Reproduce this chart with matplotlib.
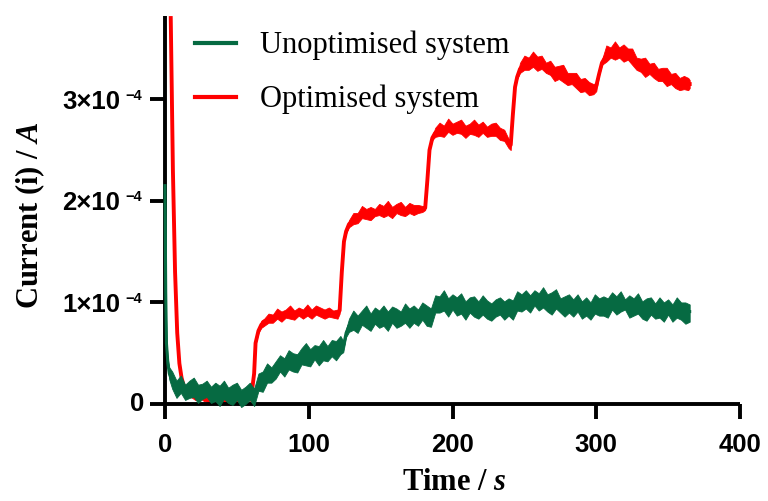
import numpy as np
import matplotlib
matplotlib.use("Agg")
import matplotlib.pyplot as plt
from matplotlib.lines import Line2D
from matplotlib.transforms import ScaledTranslation

plt.rcParams["mathtext.fontset"] = "custom"
plt.rcParams["mathtext.it"] = "Liberation Serif:italic:bold"
plt.rcParams["mathtext.rm"] = "Liberation Serif:bold"

# ---- data (current in units of 1e-4 A) ----
t_unopt = [0, 0.5, 1, 2, 3, 5, 8, 11, 14, 17, 20, 23, 26, 29, 32, 35, 38, 41, 44, 47,
           50, 53, 56, 59, 62, 65, 68, 71, 74, 77, 80, 83, 86, 89, 92, 95, 98, 101, 104,
           107, 110, 113, 116, 119, 122, 124, 126, 128, 131, 134, 137, 140, 143, 146, 149,
           152, 155, 158, 161, 164, 167, 170, 173, 176, 179, 182, 185, 188, 191, 194, 197,
           200, 203, 206, 209, 212, 215, 218, 221, 224, 227, 230, 233, 236, 239, 242, 245,
           248, 251, 254, 257, 260, 263, 266, 269, 272, 275, 278, 281, 284, 287, 290, 293,
           296, 299, 302, 305, 308, 311, 314, 317, 320, 323, 326, 329, 332, 335, 338, 341,
           344, 347, 350, 353, 356, 359, 362, 365]
i_unopt = ([2.15, 1.10, 0.60, 0.40, 0.30]
           + [0.22, 0.17, 0.16, 0.14, 0.14, 0.13, 0.13, 0.12, 0.12, 0.12, 0.11, 0.11,
              0.11, 0.10, 0.10, 0.10, 0.09, 0.09, 0.09, 0.09]
           + [0.20, 0.25, 0.27, 0.31, 0.33, 0.37, 0.39, 0.41, 0.42, 0.44, 0.45, 0.47,
              0.48, 0.49, 0.50, 0.51, 0.52, 0.53, 0.54, 0.56]
           + [0.56, 0.70, 0.77]
           + [0.80, 0.81, 0.83, 0.84, 0.84, 0.85, 0.85, 0.85, 0.85, 0.85, 0.86, 0.86,
              0.86, 0.87, 0.87, 0.87, 0.88, 0.88, 0.89]
           + [0.96, 0.99, 0.99, 0.98, 0.98, 0.97, 0.97, 0.96, 0.96, 0.95, 0.95, 0.94,
              0.94, 0.94, 0.93, 0.93, 0.94, 0.95, 0.96, 0.98, 1.00, 1.01, 1.02, 1.02,
              1.02, 1.03, 1.02, 1.01, 1.00, 0.99, 0.98, 0.97, 0.96, 0.96, 0.95, 0.95,
              0.95, 0.95, 0.96, 0.97, 0.98, 0.99, 0.99, 0.99, 0.98, 0.97, 0.96, 0.96,
              0.95, 0.95, 0.94, 0.94, 0.93, 0.93, 0.93, 0.92, 0.92, 0.92, 0.91, 0.91])
# noise excursions above / below the trace
up_unopt = ([0, 0, 0.02, 0.04, 0.06]
            + [0.10, 0.06, 0.12, 0.05, 0.09, 0.13, 0.06, 0.08, 0.11, 0.05, 0.10, 0.07,
               0.12, 0.06, 0.09]
            + [0.11, 0.05, 0.08, 0.12, 0.06, 0.10, 0.07, 0.13, 0.05, 0.09, 0.11, 0.06,
               0.12, 0.08, 0.05, 0.10, 0.13, 0.06, 0.09, 0.07, 0.12, 0.05, 0.10, 0.08, 0.11]
            + [0.06, 0.04, 0.07]
            + [0.12, 0.06, 0.09, 0.13, 0.05, 0.10, 0.07, 0.12, 0.06, 0.11,
               0.08, 0.05, 0.13, 0.07, 0.10, 0.06, 0.12, 0.09, 0.05, 0.11,
               0.07, 0.13, 0.06, 0.10, 0.08, 0.12, 0.05, 0.09, 0.11, 0.06,
               0.13, 0.08, 0.05, 0.10, 0.12, 0.07, 0.09, 0.06, 0.13, 0.08,
               0.11, 0.05, 0.10, 0.07, 0.12, 0.06, 0.09, 0.13, 0.05, 0.08,
               0.11, 0.07, 0.12, 0.06, 0.10, 0.05, 0.13, 0.08, 0.09, 0.06,
               0.11, 0.07, 0.12, 0.05, 0.10, 0.08, 0.13, 0.06, 0.09, 0.11,
               0.05, 0.12, 0.07, 0.10, 0.06, 0.13, 0.08, 0.09, 0.07])
down_unopt = ([0, 0, 0.02, 0.04, 0.06]
              + [0.07, 0.11, 0.05, 0.10, 0.08, 0.06, 0.12, 0.07, 0.05, 0.11, 0.08, 0.13,
                 0.06, 0.09, 0.11]
              + [0.06, 0.12, 0.09, 0.05, 0.11, 0.07, 0.13, 0.06, 0.10, 0.08, 0.05, 0.12,
                 0.07, 0.10, 0.13, 0.06, 0.09, 0.11, 0.05, 0.12, 0.08, 0.10, 0.06, 0.11,
                 0.07]
              + [0.05, 0.04, 0.06]
              + [0.07, 0.11, 0.05, 0.09, 0.12, 0.06, 0.10, 0.08, 0.13, 0.05,
                 0.11, 0.09, 0.06, 0.12, 0.07, 0.10, 0.05, 0.11, 0.13, 0.06,
                 0.09, 0.07, 0.12, 0.05, 0.10, 0.08, 0.13, 0.06, 0.09, 0.11,
                 0.06, 0.10, 0.12, 0.07, 0.05, 0.11, 0.08, 0.13, 0.06, 0.09,
                 0.07, 0.12, 0.05, 0.10, 0.08, 0.11, 0.13, 0.06, 0.09, 0.12,
                 0.07, 0.10, 0.05, 0.11, 0.08, 0.12, 0.06, 0.09, 0.10, 0.13,
                 0.06, 0.11, 0.08, 0.05, 0.12, 0.09, 0.07, 0.11, 0.13, 0.06,
                 0.10, 0.08, 0.12, 0.05, 0.11, 0.07, 0.09, 0.12, 0.10])

t_opt = [4.0, 5.5, 7.0, 8.5, 10, 11.5, 13, 15, 18, 21, 24, 27, 30, 33, 36, 39, 42, 45, 48,
         51, 54, 57, 60, 62, 63, 65, 67, 69, 72, 75, 78, 81, 84, 87, 90, 93, 96, 99, 102,
         105, 108, 111, 114, 117, 120, 121.5, 123, 124.5, 126, 128, 131, 134, 137, 140,
         143, 146, 149, 152, 155, 158, 161, 164, 167, 170, 173, 176, 179, 181, 182.5, 184,
         186, 188, 191, 194, 197, 200, 203, 206, 209, 212, 215, 218, 221, 224, 227, 230,
         233, 236, 239, 240.5, 242, 243.5, 245, 247, 250, 253, 256, 259, 262, 265, 268,
         271, 274, 277, 280, 283, 286, 289, 292, 295, 298, 300, 302, 304, 307, 310, 313,
         316, 319, 322, 325, 328, 331, 334, 337, 340, 343, 346, 349, 352, 355, 358, 361,
         364, 365]
i_opt = ([3.80, 2.30, 1.30, 0.70, 0.40, 0.26, 0.18, 0.13]
         + [0.10, 0.09, 0.08, 0.07, 0.07, 0.07, 0.06, 0.06, 0.06, 0.06, 0.06, 0.06,
            0.06, 0.06, 0.07]
         + [0.30, 0.60, 0.72, 0.78, 0.81]
         + [0.83, 0.85, 0.86, 0.87, 0.88, 0.88, 0.89, 0.89, 0.89, 0.90, 0.90, 0.90,
            0.90, 0.89, 0.89, 0.89, 0.89]
         + [0.92, 1.30, 1.60, 1.70, 1.77]
         + [1.81, 1.84, 1.86, 1.87, 1.88, 1.89, 1.89, 1.90, 1.90, 1.90, 1.91, 1.91,
            1.91, 1.91, 1.91, 1.92, 1.92]
         + [1.93, 2.20, 2.50, 2.62, 2.67]
         + [2.69, 2.70, 2.71, 2.71, 2.71, 2.71, 2.70, 2.70, 2.70, 2.70, 2.70, 2.69,
            2.69, 2.68, 2.67, 2.64, 2.58]
         + [2.55, 2.85, 3.12, 3.22, 3.30]
         + [3.34, 3.36, 3.36, 3.36, 3.35, 3.32, 3.28, 3.26, 3.25, 3.23, 3.21, 3.19,
            3.17, 3.15, 3.13, 3.11, 3.11]
         + [3.13, 3.25, 3.36]
         + [3.43, 3.45, 3.46, 3.46, 3.45, 3.43, 3.40, 3.36, 3.32, 3.30, 3.29, 3.27,
            3.25, 3.23, 3.21, 3.19, 3.17, 3.16, 3.15, 3.15]
         + [3.15])
up_opt = ([0, 0, 0, 0, 0, 0, 0.01, 0.02]
          + [0.04, 0.02, 0.05, 0.03, 0.02, 0.05, 0.03, 0.04, 0.02, 0.05, 0.03, 0.02, 0.04,
             0.03, 0.02]
          + [0.0, 0.01, 0.02, 0.04, 0.03]
          + [0.06, 0.03, 0.08, 0.04, 0.05, 0.09, 0.03, 0.06, 0.04, 0.08, 0.03, 0.07, 0.05,
             0.04, 0.06, 0.03, 0.04]
          + [0.01, 0.0, 0.0, 0.02, 0.04]
          + [0.07, 0.04, 0.09, 0.05, 0.06, 0.03, 0.08, 0.05, 0.10, 0.04, 0.06, 0.08, 0.03,
             0.07, 0.05, 0.04, 0.03]
          + [0.02, 0.0, 0.0, 0.02, 0.05]
          + [0.08, 0.04, 0.10, 0.05, 0.07, 0.09, 0.04, 0.06, 0.10, 0.05, 0.08, 0.04, 0.07,
             0.09, 0.05, 0.06, 0.03]
          + [0.02, 0.0, 0.0, 0.02, 0.06]
          + [0.09, 0.05, 0.11, 0.06, 0.08, 0.04, 0.10, 0.06, 0.08, 0.11, 0.05, 0.07, 0.09,
             0.05, 0.08, 0.06, 0.04]
          + [0.03, 0.01, 0.03]
          + [0.10, 0.06, 0.11, 0.05, 0.09, 0.07, 0.10, 0.05, 0.08, 0.11, 0.06, 0.09, 0.05,
             0.08, 0.10, 0.06, 0.09, 0.05, 0.08, 0.06]
          + [0.04])
down_opt = ([0, 0, 0, 0, 0, 0, 0.01, 0.02]
            + [0.03, 0.05, 0.02, 0.04, 0.05, 0.02, 0.04, 0.03, 0.05, 0.02, 0.04, 0.05,
               0.03, 0.02, 0.04]
            + [0.0, 0.01, 0.02, 0.03, 0.04]
            + [0.03, 0.05, 0.02, 0.06, 0.03, 0.04, 0.06, 0.02, 0.05, 0.03, 0.06, 0.02,
               0.04, 0.05, 0.03, 0.04, 0.05]
            + [0.03, 0.0, 0.0, 0.02, 0.03]
            + [0.04, 0.06, 0.03, 0.05, 0.07, 0.04, 0.03, 0.06, 0.04, 0.07, 0.03, 0.05,
               0.06, 0.03, 0.05, 0.04, 0.03]
            + [0.02, 0.0, 0.0, 0.02, 0.04]
            + [0.05, 0.07, 0.03, 0.06, 0.04, 0.05, 0.08, 0.04, 0.05, 0.07, 0.03, 0.06,
               0.05, 0.04, 0.07, 0.05, 0.06]
            + [0.05, 0.0, 0.0, 0.02, 0.04]
            + [0.05, 0.07, 0.04, 0.08, 0.05, 0.06, 0.04, 0.08, 0.05, 0.06, 0.07, 0.04,
               0.06, 0.08, 0.05, 0.07, 0.06]
            + [0.05, 0.01, 0.02]
            + [0.06, 0.04, 0.07, 0.05, 0.08, 0.04, 0.06, 0.07, 0.05, 0.08, 0.04, 0.06,
               0.07, 0.05, 0.08, 0.04, 0.06, 0.07, 0.05, 0.06]
            + [0.04])

series_names = ["Unoptimised system", "Optimised system"]
series_colors = ["#066a42", "#ff0000"]

x_ticks = [0, 100, 200, 300, 400]
y_ticks = [0, 1, 2, 3]
y_mantissas = ["0", "1×10", "2×10", "3×10"]
y_exponent = "−4"

SCALE = 1e-4
TICK_FONT = ["Liberation Sans", "DejaVu Sans"]

fig = plt.figure(figsize=(7.68, 5.01), dpi=100)
ax = fig.add_axes([165 / 768, 97 / 501, 575 / 768, 388 / 501])


def draw_trace(t, mean, up, down, color, lw, z):
    t = np.asarray(t)
    m = np.asarray(mean) * SCALE
    hi = m + np.asarray(up) * SCALE
    lo = m - np.asarray(down) * SCALE
    ax.fill_between(t, lo, hi, color=color, lw=0.6, zorder=z, clip_on=False)
    ax.plot(t, m, color=color, lw=lw, zorder=z, clip_on=False,
            solid_joinstyle="round")


draw_trace(t_opt, i_opt, up_opt, down_opt, series_colors[1], 2.8, 2)
draw_trace(t_unopt, i_unopt, up_unopt, down_unopt, series_colors[0], 2.2, 3)

ax.set_xlim(0, 400)
ax.set_ylim(0, 3.82e-4)

ax.set_xticks(x_ticks)
ax.set_xticklabels([str(v) for v in x_ticks], fontfamily=TICK_FONT,
                   fontweight="bold", fontsize=18.5)
ax.set_yticks([v * SCALE for v in y_ticks])
ax.tick_params(axis="y", labelleft=False)


# y tick labels: mantissa "n×10" with a raised exponent
def px_offset(dx, dy):
    return ScaledTranslation(dx / fig.dpi, dy / fig.dpi, fig.dpi_scale_trans)


ytrans = ax.get_yaxis_transform()
for v, mant in zip(y_ticks, y_mantissas):
    y = v * SCALE
    if v == 0:
        ax.text(0, y, mant, transform=ytrans + px_offset(-21, 0), ha="right",
                va="center", fontfamily=TICK_FONT, fontweight="bold", fontsize=18.5,
                clip_on=False)
        continue
    ax.text(0, y, mant, transform=ytrans + px_offset(-45, -9.5), ha="right",
            va="baseline", fontfamily=TICK_FONT, fontweight="bold", fontsize=18.5,
            clip_on=False)
    ax.text(0, y, y_exponent, transform=ytrans + px_offset(-40, -0.5), ha="left",
            va="baseline", fontfamily=TICK_FONT, fontweight="bold", fontsize=10.5,
            clip_on=False)

for side in ("top", "right"):
    ax.spines[side].set_visible(False)
for side in ("left", "bottom"):
    ax.spines[side].set_linewidth(2.8)
    ax.spines[side].set_capstyle("butt")
ax.tick_params(axis="both", direction="out", length=11, width=2.8, color="black")
ax.tick_params(axis="x", pad=10)

ax.set_xlabel(r"Time / $\mathit{s}$", fontfamily="Liberation Serif",
              fontweight="bold", fontsize=22)
ax.set_ylabel(r"Current (i) / $\mathit{A}$", fontfamily="Liberation Serif",
              fontweight="bold", fontsize=22)
ax.xaxis.set_label_coords(0.503, -0.165)
ax.yaxis.set_label_coords(-0.205, 0.487)

handles = [Line2D([], [], color=c, lw=3) for c in series_colors]
leg = ax.legend(handles, series_names, loc="upper left",
                bbox_to_anchor=(195 / 768, 1 - 31 / 501),
                bbox_transform=fig.transFigure, frameon=False, borderpad=0,
                borderaxespad=0, handlelength=1.34, handletextpad=0.78,
                labelspacing=0.8, prop={"family": "Liberation Serif", "size": 22})

fig.savefig("out.png", dpi=100)
